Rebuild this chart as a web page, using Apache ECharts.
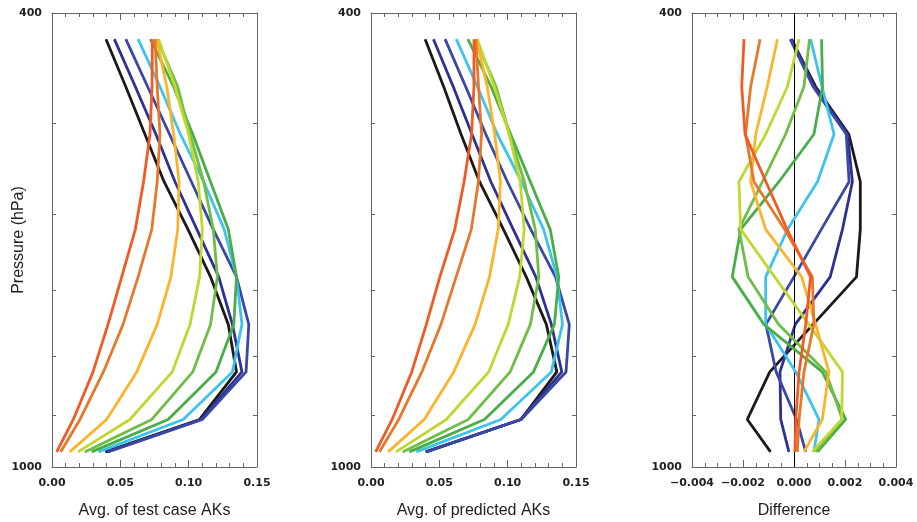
<!DOCTYPE html>
<html>
<head>
<meta charset="utf-8">
<script src="https://cdn.jsdelivr.net/npm/echarts@6/dist/echarts.min.js"></script>
<style>
html, body { margin: 0; padding: 0; background: #fff; }
#main { width: 917px; height: 522px; }
</style>
</head>
<body>
<div id="main"></div>
<script>
// pressure levels (hPa), surface -> top
var levels = [970, 908.5, 825.4, 749.9, 681.3, 619.0, 562.3, 510.9, 464.2, 421.7];

var lineColors = ['#1a1a1a', '#2e3192', '#3a47a3', '#3ec3ec', '#49ad48', '#70bd45', '#bfd730', '#fbb32c', '#e6782c', '#f15a25'];

// Avg. of test case AKs (one row per colour, values at each level)
var testAKs = [
	[0.039, 0.108, 0.135, 0.129, 0.116, 0.0995, 0.082, 0.068, 0.054, 0.0395],
	[0.040, 0.109, 0.139, 0.132, 0.122, 0.106, 0.090, 0.076, 0.061, 0.0456],
	[0.041, 0.110, 0.142, 0.144, 0.135, 0.118, 0.102, 0.086, 0.070, 0.054],
	[0.034, 0.096, 0.132, 0.139, 0.135, 0.126, 0.111, 0.094, 0.079, 0.063],
	[0.029, 0.085, 0.120, 0.133, 0.135, 0.129, 0.116, 0.103, 0.089, 0.072],
	[0.024, 0.073, 0.103, 0.116, 0.121, 0.118, 0.111, 0.101, 0.092, 0.077],
	[0.019, 0.057, 0.088, 0.101, 0.108, 0.110, 0.107, 0.100, 0.090, 0.078],
	[0.013, 0.040, 0.062, 0.077, 0.087, 0.092, 0.093, 0.089, 0.084, 0.0766],
	[0.0063, 0.0205, 0.0376, 0.052, 0.063, 0.073, 0.077, 0.079, 0.077, 0.0754],
	[0.0034, 0.0156, 0.030, 0.041, 0.051, 0.061, 0.067, 0.0717, 0.0732, 0.0734]
];

// Avg. of predicted AKs
var predAKs = [
	[0.0399, 0.1098, 0.1360, 0.1283, 0.1136, 0.0969, 0.0794, 0.0659, 0.0532, 0.0396],
	[0.0402, 0.1095, 0.1396, 0.1320, 0.1206, 0.1041, 0.0877, 0.0739, 0.0602, 0.0457],
	[0.0405, 0.1099, 0.1427, 0.1451, 0.1350, 0.1169, 0.0998, 0.0840, 0.0693, 0.0542],
	[0.0332, 0.0950, 0.1319, 0.1401, 0.1361, 0.1263, 0.1101, 0.0924, 0.0779, 0.0624],
	[0.0281, 0.0830, 0.1189, 0.1342, 0.1374, 0.1311, 0.1166, 0.1022, 0.0879, 0.0709],
	[0.0232, 0.0711, 0.1018, 0.1166, 0.1228, 0.1202, 0.1122, 0.1013, 0.0916, 0.0764],
	[0.0183, 0.0551, 0.0861, 0.1004, 0.1088, 0.1121, 0.1092, 0.1011, 0.0903, 0.0778],
	[0.0126, 0.0389, 0.0606, 0.0762, 0.0867, 0.0931, 0.0947, 0.0905, 0.0851, 0.0773],
	[0.0062, 0.0203, 0.0372, 0.0512, 0.0623, 0.0734, 0.0786, 0.0809, 0.0787, 0.0767],
	[0.0034, 0.0155, 0.0298, 0.0405, 0.0504, 0.0613, 0.0681, 0.0736, 0.0753, 0.0754]
];

// Difference
var diffAKs = [
	[-0.00092, -0.00183, -0.00095, 0.00075, 0.00245, 0.0026, 0.0026, 0.00215, 0.00085, -0.0001],
	[-0.0002, -0.00052, -0.00055, 0.00005, 0.00142, 0.0019, 0.00229, 0.0021, 0.0008, -0.0001],
	[0.00046, 0.0001, -0.0007, -0.0011, 0.0, 0.00107, 0.00216, 0.00205, 0.00075, -0.00015],
	[0.00078, 0.00098, 0.00007, -0.00111, -0.00111, -0.00025, 0.00092, 0.00157, 0.0011, 0.00065],
	[0.00092, 0.00203, 0.00111, -0.00118, -0.00242, -0.00209, -0.00059, 0.00078, 0.00112, 0.00108],
	[0.00085, 0.0019, 0.00125, -0.0006, -0.0018, -0.00216, -0.00124, -0.00033, 0.00039, 0.00061],
	[0.00072, 0.00187, 0.0019, 0.00058, -0.00076, -0.00209, -0.00216, -0.00111, -0.00026, 0.0002],
	[0.00039, 0.00111, 0.00137, 0.00085, 0.0003, -0.00111, -0.0017, -0.0015, -0.00105, -0.00065],
	[0.00013, 0.0002, 0.00039, 0.00078, 0.00072, -0.00037, -0.00157, -0.0019, -0.0017, -0.00133],
	[0.00004, 0.00007, 0.0002, 0.00046, 0.00065, -0.00027, -0.0011, -0.00192, -0.00205, -0.00196]
];

var pressureTicks = [400, 500, 600, 700, 800, 900, 1000];
var pressureLabels = [400, 1000];

var axisGray = '#666';
var tickFont = 'DejaVu Sans';
var titleFont = 'Liberation Sans';

function xAxisOf(gi, pos, min, max, interval, split, digits, name) {
	return {
		type: 'value', gridIndex: gi, position: pos,
		min: min, max: max, interval: interval,
		axisLine: { show: true, onZero: false, lineStyle: { color: axisGray, width: 1 } },
		axisTick: { show: true, inside: true, length: 7, lineStyle: { color: axisGray } },
		minorTick: { show: true, splitNumber: split, length: 4, lineStyle: { color: axisGray } },
		axisLabel: {
			show: pos === 'bottom', margin: 11, fontFamily: tickFont, fontWeight: 'bold',
			fontSize: 11, color: '#222',
			formatter: function (v) { return v.toFixed(digits).replace('-', '\u2212'); }
		},
		splitLine: { show: false },
		name: pos === 'bottom' ? name : '',
		nameLocation: 'middle', nameGap: 36, nameMoveOverlap: false,
		nameTextStyle: { fontFamily: titleFont, fontSize: 16, color: '#222' }
	};
}

function yAxisOf(gi, pos, name) {
	return {
		type: 'log', logBase: 10, gridIndex: gi, position: pos,
		inverse: true, min: 400, max: 1000,
		axisLine: { show: true, onZero: false, lineStyle: { color: axisGray, width: 1 } },
		axisTick: { show: true, inside: true, length: 4, customValues: pressureTicks, lineStyle: { color: axisGray } },
		minorTick: { show: false },
		axisLabel: {
			show: pos === 'left', customValues: pressureLabels, margin: 10,
			fontFamily: tickFont, fontWeight: 'bold', fontSize: 11, color: '#222',
			formatter: function (v) { return String(Math.round(v)); }
		},
		splitLine: { show: false },
		name: name || '',
		nameLocation: 'middle', nameGap: 25, nameMoveOverlap: false,
		nameTextStyle: { fontFamily: titleFont, fontSize: 16, color: '#222' }
	};
}

var grids = [
	{ left: 52, top: 13, width: 205, height: 454, outerBoundsMode: 'none', containLabel: false },
	{ left: 371, top: 13, width: 205, height: 454, outerBoundsMode: 'none', containLabel: false },
	{ left: 692, top: 13, width: 204, height: 454, outerBoundsMode: 'none', containLabel: false }
];

var xAxes = [
	xAxisOf(0, 'bottom', 0, 0.15, 0.05, 5, 2, 'Avg. of test case AKs'),
	xAxisOf(0, 'top', 0, 0.15, 0.05, 5, 2),
	xAxisOf(1, 'bottom', 0, 0.15, 0.05, 5, 2, 'Avg. of predicted AKs'),
	xAxisOf(1, 'top', 0, 0.15, 0.05, 5, 2),
	xAxisOf(2, 'bottom', -0.004, 0.004, 0.002, 4, 3, 'Difference'),
	xAxisOf(2, 'top', -0.004, 0.004, 0.002, 4, 3)
];
var yAxes = [
	yAxisOf(0, 'left', 'Pressure (hPa)'),
	yAxisOf(0, 'right'),
	yAxisOf(1, 'left'),
	yAxisOf(1, 'right'),
	yAxisOf(2, 'left'),
	yAxisOf(2, 'right')
];

function profile(values) {
	return values.map(function (v, i) { return [v, levels[i]]; });
}

var series = [];
[testAKs, predAKs, diffAKs].forEach(function (panel, p) {
	panel.forEach(function (row, i) {
		series.push({
			type: 'line',
			xAxisIndex: p * 2, yAxisIndex: p * 2,
			data: profile(row),
			showSymbol: false, symbol: 'none',
			lineStyle: { color: lineColors[i], width: 2.8 },
			itemStyle: { color: lineColors[i] },
			z: 2 + i
		});
	});
});
// zero line in the difference panel
series.push({
	type: 'line', xAxisIndex: 4, yAxisIndex: 4, data: [], z: 20,
	markLine: {
		silent: true, symbol: 'none', label: { show: false },
		lineStyle: { color: '#000', width: 1, type: 'solid' },
		data: [{ xAxis: 0 }]
	}
});

var chart = echarts.init(document.getElementById('main'));
chart.setOption({
	animation: false,
	backgroundColor: '#fff',
	grid: grids,
	xAxis: xAxes,
	yAxis: yAxes,
	series: series
});
</script>
</body>
</html>
